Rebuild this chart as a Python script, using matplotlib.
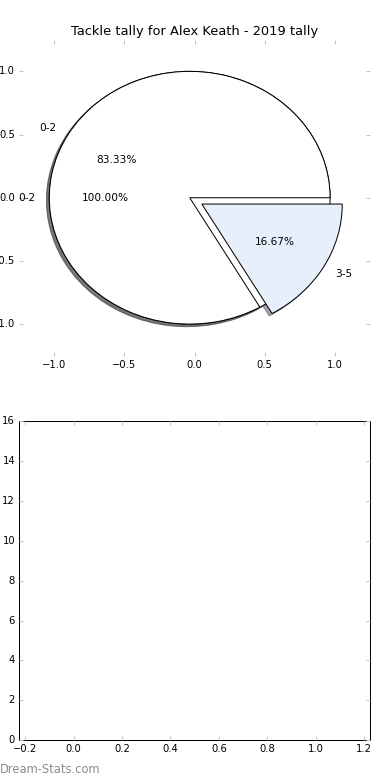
import matplotlib
matplotlib.use("Agg")
import matplotlib.pyplot as plt

plt.style.use("classic")

# data
title = "Tackle tally for Alex Keath - 2019 tally"
all_labels = ["0-2"]
all_values = [1]
tally_labels = ["0-2", "3-5"]
tally_values = [5, 1]
tally_colors = ["white", "#e8effc"]
tally_explode = [0, 0.1]

bar_xlim = (-0.225, 1.225)
bar_ylim = (0, 16)

DPI = 72
fig = plt.figure(figsize=(390 / DPI, 780 / DPI), dpi=DPI, facecolor="white")
ax1 = fig.add_axes([0.049, 0.544, 0.9, 0.405])
ax2 = fig.add_axes([0.049, 0.051, 0.9, 0.409])

for ax in (ax1, ax2):
    ax.tick_params(direction="in", length=4, width=1, color="#c4c4c4",
                   labelsize=10, top=True, right=True)

# pie (two overlaid pies, like the original)
pie_center = (-0.035, 0.0)
ax1.pie(all_values, labels=all_labels, colors=["white"], autopct="%1.2f%%",
        shadow=True, frame=True, center=pie_center,
        textprops={"fontsize": 10.5})
ax1.pie(tally_values, labels=tally_labels, colors=tally_colors,
        explode=tally_explode, autopct="%1.2f%%", shadow=True, frame=True,
        center=pie_center, textprops={"fontsize": 10.5})
ax1.set_aspect("auto")
ax1.set_xlim(-1.25, 1.25)
ax1.set_ylim(-1.25, 1.25)
ax1.set_xticks([-1.0, -0.5, 0.0, 0.5, 1.0])
ax1.set_yticks([-1.0, -0.5, 0.0, 0.5, 1.0])
for sp in ax1.spines.values():
    sp.set_visible(False)
ax1.set_title(title, fontsize=13)

# empty bar axes
ax2.set_xlim(*bar_xlim)
ax2.set_ylim(*bar_ylim)
ax2.set_xticks([-0.2, 0.0, 0.2, 0.4, 0.6, 0.8, 1.0, 1.2])
ax2.set_yticks(range(0, 17, 2))

fig.text(0.0, 0.005, "Dream-Stats.com", color="#8c8c8c", fontsize=11.5,
         ha="left", va="bottom")

fig.savefig("out.png", dpi=DPI, facecolor="white")
